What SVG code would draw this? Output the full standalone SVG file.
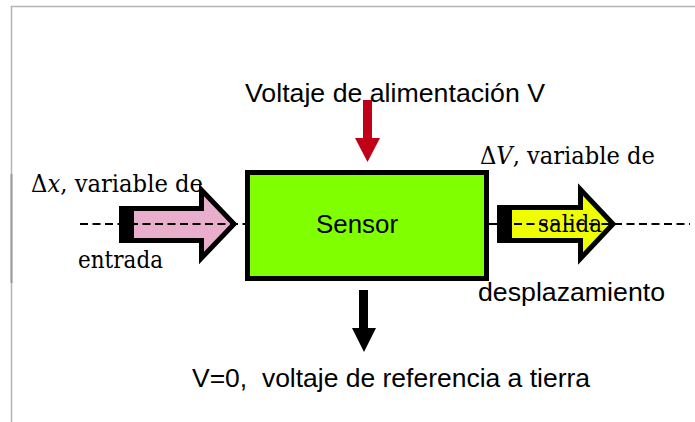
<svg xmlns="http://www.w3.org/2000/svg" width="695" height="422" viewBox="0 0 695 422">
<style>
.sans{font-family:"Liberation Sans",Arial,sans-serif;font-size:26.5px;fill:#000;white-space:pre}
.serif{font-family:"DejaVu Serif","Liberation Serif",serif;font-size:24px;fill:#000;white-space:pre}
.it{font-style:italic}
.dash{stroke:#000;stroke-width:1.8;stroke-dasharray:8 4.5;fill:none}
.blk{stroke:#000;stroke-width:5;stroke-linejoin:miter;stroke-miterlimit:10}
</style>
<rect width="695" height="422" fill="#fff"/>
<g id="frame">
<line x1="11" y1="6.5" x2="695" y2="6.5" stroke="#b4b4b4" stroke-width="1.5"/>
<line x1="11.5" y1="6" x2="11.5" y2="422" stroke="#b4b4b4" stroke-width="1.5"/>
<line x1="11.5" y1="174" x2="11.5" y2="283" stroke="#9a9a9a" stroke-width="2"/>
</g>
<g id="input-arrow">
<polygon class="blk" fill="#e9aecb" points="121.5,208.5 201.5,208.5 201.5,190 234,224 201.5,258 201.5,240.5 121.5,240.5"/>
<rect x="119" y="206" width="15" height="37" fill="#000"/>
</g>
<g id="output-arrow">
<polygon class="blk" fill="#f0ff00" points="499.5,207.5 580.5,207.5 580.5,189.5 613,224 580.5,258.5 580.5,240.5 499.5,240.5"/>
<rect x="497" y="205" width="15" height="38" fill="#000"/>
</g>
<g id="sensor">
<rect x="247.5" y="172.5" width="239" height="106" fill="#80ff00" stroke="#000" stroke-width="5"/>
<text class="sans" x="316" y="233" textLength="82" lengthAdjust="spacingAndGlyphs">Sensor</text>
</g>
<g id="connectors">
<line class="dash" x1="80" y1="224" x2="245" y2="224"/>
<line class="dash" x1="489" y1="224" x2="690" y2="224"/>
<g id="supply-arrow" fill="#c00018">
<rect x="363" y="100" width="9" height="39"/>
<polygon points="355,138 380,138 367.5,162"/>
</g>
<g id="ground-arrow" fill="#000">
<rect x="359" y="290" width="9" height="39"/>
<polygon points="352,328 376,328 364,352"/>
</g>
</g>
<g id="labels">
<text class="sans" x="245" y="102" textLength="300" lengthAdjust="spacingAndGlyphs">Voltaje de alimentación V</text>
<text class="sans" x="192" y="387" textLength="398" lengthAdjust="spacingAndGlyphs">V=0,  voltaje de referencia a tierra</text>
<text class="sans" x="478" y="301" textLength="187" lengthAdjust="spacingAndGlyphs">desplazamiento</text>
<text class="serif" x="31" y="192" textLength="172" lengthAdjust="spacingAndGlyphs">Δ<tspan class="it">x</tspan>, variable de</text>
<text class="serif" x="78" y="268" textLength="85" lengthAdjust="spacingAndGlyphs">entrada</text>
<text class="serif" x="480" y="164" textLength="175" lengthAdjust="spacingAndGlyphs">Δ<tspan class="it">V</tspan>, variable de</text>
<text class="serif" x="538" y="232" textLength="64" lengthAdjust="spacingAndGlyphs">salida</text>
</g>
</svg>
